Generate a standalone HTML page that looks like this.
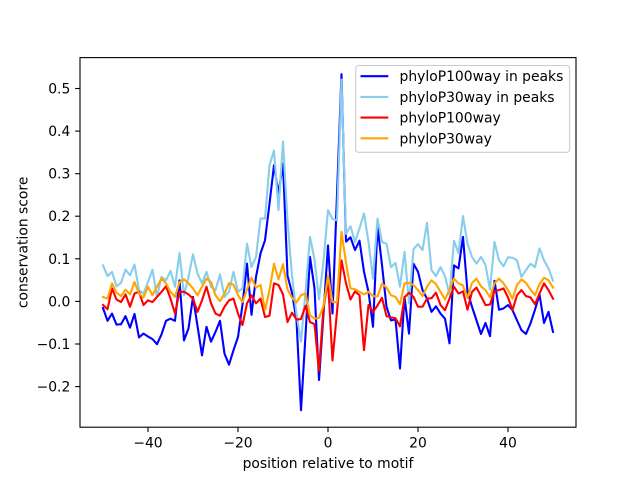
<!DOCTYPE html>
<html>
<head>
<meta charset="utf-8">
<style>
html,body{margin:0;padding:0;background:#fff;}
svg{display:block;}
text{font-family:"DejaVu Sans","Liberation Sans",sans-serif;fill:#000;}
</style>
</head>
<body>
<svg width="640" height="480" viewBox="0 0 640 480" xmlns="http://www.w3.org/2000/svg">
<rect x="0" y="0" width="640" height="480" fill="#fff"/>
<defs>
<clipPath id="ax"><rect x="80" y="57.6" width="496" height="369.6"/></clipPath>
</defs>
<g clip-path="url(#ax)">
<g transform="translate(328,301.2) scale(4.5,-426)" fill="none" stroke-linejoin="round" stroke-linecap="square">
<polyline vector-effect="non-scaling-stroke" stroke="#0000ff" stroke-width="2.1" points="-50,-0.016 -49,-0.046 -48,-0.029 -47,-0.055 -46,-0.054 -45,-0.035 -44,-0.062 -43,-0.030 -42,-0.085 -41,-0.076 -40,-0.083 -39,-0.089 -38,-0.101 -37,-0.078 -36,-0.046 -35,-0.041 -34,-0.046 -33,0.049 -32,-0.092 -31,-0.064 -30,0.010 -29,-0.058 -28,-0.127 -27,-0.060 -26,-0.095 -25,-0.072 -24,-0.046 -23,-0.123 -22,-0.149 -21,-0.115 -20,-0.084 -19,-0.008 -18,0.088 -17,-0.032 -16,0.057 -15,0.112 -14,0.143 -13,0.229 -12,0.319 -11,0.253 -10,0.323 -9,0.06 -8,0.02 -7,-0.045 -6,-0.256 -5,-0.08 -4,0.104 -3,0.03 -2,-0.185 -1,-0.03 0,0.131 1,-0.029 2,0.25 3,0.533 4,0.14 5,0.15 6,0.12 7,0.142 8,0.069 9,0.022 10,-0.060 11,0.175 12,0.085 13,-0.013 14,-0.045 15,-0.043 16,-0.158 17,0.010 18,-0.076 19,0.088 20,0.069 21,0.026 22,0.006 23,-0.025 24,-0.012 25,-0.029 26,-0.041 27,-0.099 28,0.084 29,0.077 30,0.151 31,0.022 32,-0.013 33,-0.045 34,-0.077 35,-0.051 36,-0.082 37,0.048 38,-0.020 39,-0.017 40,-0.009 41,-0.021 42,-0.045 43,-0.068 44,-0.077 45,-0.052 46,-0.020 47,0.016 48,-0.051 49,-0.025 50,-0.072"/>
<polyline vector-effect="non-scaling-stroke" stroke="#87ceeb" stroke-width="2.1" points="-50,0.084 -49,0.059 -48,0.069 -47,0.035 -46,0.043 -45,0.074 -44,0.061 -43,0.086 -42,0.026 -41,0.018 -40,0.045 -39,0.074 -38,0.010 -37,0.057 -36,0.049 -35,0.071 -34,0.034 -33,0.113 -32,0.014 -31,0.057 -30,0.110 -29,0.065 -28,0.042 -27,0.069 -26,0.034 -25,0.026 -24,0.063 -23,0.010 -22,0.022 -21,0.069 -20,0.022 -19,0.030 -18,0.135 -17,0.080 -16,0.104 -15,0.194 -14,0.194 -13,0.319 -12,0.354 -11,0.214 -10,0.375 -9,0.19 -8,0.06 -7,-0.03 -6,-0.095 -5,0.022 -4,0.151 -3,0.098 -2,0.004 -1,0.094 0,0.214 1,0.193 2,0.190 3,0.52 4,0.158 5,0.176 6,0.139 7,0.171 8,0.206 9,0.139 10,0.053 11,0.194 12,0.139 13,0.135 14,0.080 15,0.090 16,0.034 17,0.116 18,-0.005 19,0.122 20,0.134 21,0.120 22,0.184 23,0.073 24,0.059 25,0.080 26,0.059 27,0.015 28,0.142 29,0.113 30,0.200 31,0.135 32,0.104 33,0.088 34,0.104 35,0.085 36,0.027 37,0.139 38,0.096 39,0.082 40,0.103 41,0.102 42,0.096 43,0.057 44,0.073 45,0.088 46,0.080 47,0.124 48,0.096 49,0.077 50,0.048"/>
<polyline vector-effect="non-scaling-stroke" stroke="#ff0000" stroke-width="2.1" points="-50,-0.009 -49,-0.019 -48,0.030 -47,0.004 -46,-0.002 -45,0.016 -44,-0.013 -43,0.018 -42,0.022 -41,-0.009 -40,0.002 -39,-0.002 -38,0.010 -37,0.022 -36,0.035 -35,0.006 -34,-0.029 -33,0.022 -32,0.022 -31,0.016 -30,0.006 -29,-0.025 -28,0.002 -27,0.034 -26,-0.005 -25,-0.029 -24,-0.034 -23,-0.013 -22,0.002 -21,0.006 -20,-0.029 -19,-0.056 -18,-0.005 -17,0.014 -16,-0.005 -15,0.006 -14,-0.037 -13,-0.034 -12,0.042 -11,0.038 -10,0.016 -9,-0.049 -8,-0.027 -7,-0.043 -6,-0.042 -5,-0.011 -4,-0.049 -3,-0.054 -2,-0.163 -1,-0.015 0,0.048 1,-0.139 2,-0.025 3,0.096 4,0.042 5,0.004 6,0.023 7,0.014 8,-0.115 9,-0.009 10,-0.025 11,-0.010 12,0.008 13,-0.035 14,-0.038 15,-0.040 16,-0.059 17,0.009 18,0.020 19,0.010 20,-0.013 21,-0.013 22,0.006 23,0.007 24,0.020 25,-0.009 26,-0.021 27,0.006 28,0.034 29,0.018 30,0.023 31,-0.020 32,0.022 33,0.032 34,0.012 35,-0.009 36,-0.008 37,0.024 38,0.026 39,0.030 40,0.009 41,-0.021 42,0.014 43,0.026 44,0.012 45,0.009 46,-0.007 47,0.018 48,0.042 49,0.026 50,0.006"/>
<polyline vector-effect="non-scaling-stroke" stroke="#ffa500" stroke-width="2.1" points="-50,0.010 -49,0.006 -48,0.042 -47,0.020 -46,0.012 -45,0.027 -44,0.016 -43,0.045 -42,0.018 -41,0.009 -40,0.034 -39,0.014 -38,0.034 -37,0.053 -36,0.042 -35,0.022 -34,0.010 -33,0.045 -32,0.051 -31,0.042 -30,0.030 -29,0.014 -28,0.034 -27,0.053 -26,0.045 -25,0.014 -24,0.000 -23,0.018 -22,0.042 -21,0.039 -20,0.014 -19,-0.002 -18,0.027 -17,0.055 -16,0.032 -15,0.038 -14,-0.021 -13,0.026 -12,0.088 -11,0.051 -10,0.087 -9,0.028 -8,0.008 -7,-0.003 -6,0.014 -5,0.018 -4,-0.033 -3,-0.041 -2,-0.039 -1,-0.011 0,0.06 1,-0.002 2,-0.002 3,0.163 4,0.090 5,0.030 6,0.028 7,0.022 8,0.016 9,0.022 10,0.012 11,0.011 12,0.041 13,0.032 14,0.014 15,0.010 16,-0.007 17,0.042 18,0.043 19,0.038 20,0.026 21,0.012 22,0.034 23,0.049 24,0.040 25,0.022 26,0.004 27,0.027 28,0.053 29,0.042 30,0.037 31,0.008 32,0.043 33,0.053 34,0.035 35,0.026 36,0.009 37,0.042 38,0.053 39,0.042 40,0.026 41,0.006 42,0.038 43,0.051 44,0.043 45,0.027 46,0.014 47,0.040 48,0.055 49,0.049 50,0.032"/>
</g>
</g>
<!-- axes frame -->
<rect x="80" y="57.6" width="496" height="369.6" fill="none" stroke="#000" stroke-width="1.1"/>
<!-- x ticks -->
<g stroke="#000" stroke-width="1.1">
<line x1="148" y1="427.2" x2="148" y2="432.1"/>
<line x1="238" y1="427.2" x2="238" y2="432.1"/>
<line x1="328" y1="427.2" x2="328" y2="432.1"/>
<line x1="418" y1="427.2" x2="418" y2="432.1"/>
<line x1="508" y1="427.2" x2="508" y2="432.1"/>
</g>
<g font-size="13.9" text-anchor="middle">
<text x="148" y="447.5">−40</text>
<text x="238" y="447.5">−20</text>
<text x="328" y="447.5">0</text>
<text x="418" y="447.5">20</text>
<text x="508" y="447.5">40</text>
</g>
<!-- y ticks -->
<g stroke="#000" stroke-width="1.1">
<line x1="75.1" y1="386.6" x2="80" y2="386.6"/>
<line x1="75.1" y1="344.0" x2="80" y2="344.0"/>
<line x1="75.1" y1="301.4" x2="80" y2="301.4"/>
<line x1="75.1" y1="258.8" x2="80" y2="258.8"/>
<line x1="75.1" y1="216.2" x2="80" y2="216.2"/>
<line x1="75.1" y1="173.7" x2="80" y2="173.7"/>
<line x1="75.1" y1="131.1" x2="80" y2="131.1"/>
<line x1="75.1" y1="88.5" x2="80" y2="88.5"/>
</g>
<g font-size="13.9" text-anchor="end">
<text x="70.3" y="391.6">−0.2</text>
<text x="70.3" y="349.0">−0.1</text>
<text x="70.3" y="306.4">0.0</text>
<text x="70.3" y="263.8">0.1</text>
<text x="70.3" y="221.2">0.2</text>
<text x="70.3" y="178.7">0.3</text>
<text x="70.3" y="136.1">0.4</text>
<text x="70.3" y="93.5">0.5</text>
</g>
<!-- axis labels -->
<text x="328" y="468" font-size="13.9" text-anchor="middle">position relative to motif</text>
<text transform="translate(27.5,242.4) rotate(-90)" font-size="13.9" text-anchor="middle">conservation score</text>
<!-- legend -->
<rect x="355.7" y="65.5" width="213.9" height="86.8" rx="2.8" ry="2.8" fill="#fff" fill-opacity="0.8" stroke="#cccccc" stroke-width="1.1"/>
<g stroke-width="2.1">
<line x1="360.5" y1="76.2" x2="388.3" y2="76.2" stroke="#0000ff"/>
<line x1="360.5" y1="96.9" x2="388.3" y2="96.9" stroke="#87ceeb"/>
<line x1="360.5" y1="117.6" x2="388.3" y2="117.6" stroke="#ff0000"/>
<line x1="360.5" y1="138.3" x2="388.3" y2="138.3" stroke="#ffa500"/>
</g>
<g font-size="13.9">
<text x="399.5" y="81.2">phyloP100way in peaks</text>
<text x="399.5" y="101.9">phyloP30way in peaks</text>
<text x="399.5" y="122.6">phyloP100way</text>
<text x="399.5" y="143.3">phyloP30way</text>
</g>
</svg>
</body>
</html>
